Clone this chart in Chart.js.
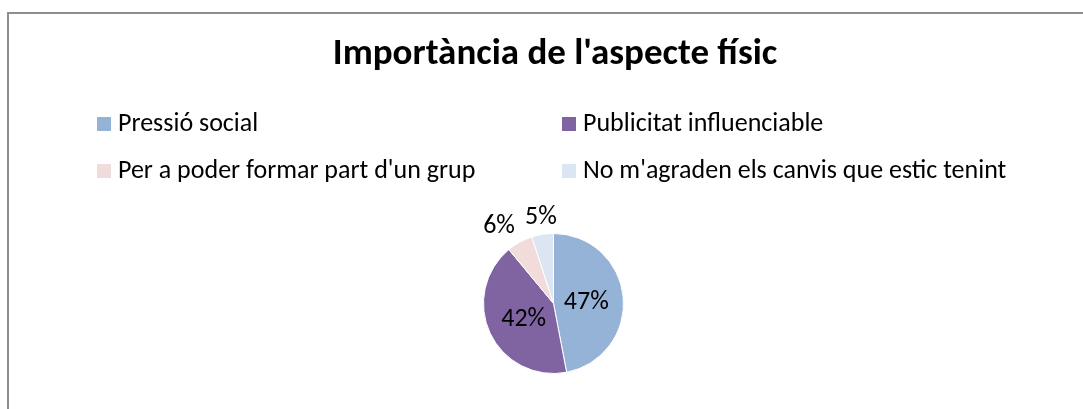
<!DOCTYPE html>
<html>
<head>
<meta charset="utf-8">
<title>Importància de l'aspecte físic</title>
<script src="https://cdn.jsdelivr.net/npm/chart.js@4"></script>
<style>
  html, body { margin: 0; padding: 0; background: #fff; }
  .frame { position: absolute; left: 0; top: 0; width: 1083px; height: 409px; overflow: hidden; }
  .frame::before {
    content: "";
    position: absolute;
    left: 7px; top: 12px; right: -10px; bottom: -10px;
    border-left: 2px solid #8e8e8e;
    border-top: 2px solid #8e8e8e;
  }
  canvas { position: absolute; left: 0; top: 0; }
</style>
</head>
<body>
<div class="frame"><canvas id="pieChart" width="1083" height="409"></canvas></div>
<script>
const chartTitle = "Importància de l'aspecte físic";
const categories = [
  "Pressió social",
  "Publicitat influenciable",
  "Per a poder formar part d'un grup",
  "No m'agraden els canvis que estic tenint",
];
const shares = [47, 42, 6, 5];
const sliceColors = ["#95b3d7", "#8064a2", "#f2dcdb", "#dce6f2"];

const fontFamily = "Carlito, Calibri, 'Open Sans', sans-serif";
const titleFont = "bold 37px " + fontFamily;
const legendFont = "26px " + fontFamily;
const labelFont = "26px " + fontFamily;

// title + two-column legend, drawn on the canvas
const headerPlugin = {
  id: "header",
  afterDraw(chart) {
    const ctx = chart.ctx;
    ctx.save();
    ctx.fillStyle = "#000";
    ctx.textBaseline = "alphabetic";

    ctx.font = titleFont;
    ctx.textAlign = "center";
    ctx.fillText(chartTitle, 555, 64);

    ctx.font = legendFont;
    ctx.textAlign = "left";
    const colX = [97, 562];
    const rowY = [131, 178];
    chart.data.labels.forEach((label, i) => {
      const x = colX[i % 2];
      const y = rowY[Math.floor(i / 2)];
      ctx.fillStyle = chart.data.datasets[0].backgroundColor[i];
      ctx.fillRect(x, y - 14, 14, 14);
      ctx.fillStyle = "#000";
      ctx.fillText(label, x + 21, y);
    });
    ctx.restore();
  },
};

// percentage labels: big slices inside, small ones just outside the rim
const sliceLabels = {
  id: "sliceLabels",
  afterDatasetsDraw(chart) {
    const ctx = chart.ctx;
    const data = chart.data.datasets[0].data;
    const total = data.reduce((a, b) => a + b, 0);
    const meta = chart.getDatasetMeta(0);
    ctx.save();
    ctx.font = labelFont;
    ctx.fillStyle = "#000";
    ctx.textAlign = "left";
    ctx.textBaseline = "alphabetic";
    const h = ctx.measureText("0").actualBoundingBoxAscent;
    meta.data.forEach((arc, i) => {
      const p = arc.getProps(["x", "y", "startAngle", "endAngle", "outerRadius"], true);
      const mid = (p.startAngle + p.endAngle) / 2;
      const dx = Math.cos(mid);
      const dy = Math.sin(mid);
      const share = data[i] / total;
      const text = Math.round(share * 100) + "%";
      const w = ctx.measureText(text).width;
      let left, baseline;
      if (share >= 0.1) {
        const cx = p.x + dx * p.outerRadius * 0.47;
        const cy = p.y + dy * p.outerRadius * 0.47;
        left = cx - w / 2;
        baseline = cy + h / 2;
      } else {
        // anchor point just past the rim; text sits on the far side of it
        const px = p.x + dx * (p.outerRadius + 10);
        const py = p.y + dy * (p.outerRadius + 10);
        if (Math.abs(dx) < 0.25) left = px - w / 2;
        else left = dx < 0 ? px - w : px;
        if (Math.abs(dy) < 0.25) baseline = py + h / 2;
        else baseline = dy < 0 ? py : py + h;
      }
      ctx.fillText(text, left, baseline);
    });
    ctx.restore();
  },
};

new Chart(document.getElementById("pieChart").getContext("2d"), {
  type: "pie",
  data: {
    labels: categories,
    datasets: [
      {
        data: shares,
        backgroundColor: sliceColors,
        borderColor: "#ffffff",
        borderWidth: 1,
      },
    ],
  },
  options: {
    responsive: false,
    animation: false,
    layout: {
      padding: { left: 200, right: 176, top: 233, bottom: 35 },
    },
    plugins: {
      legend: { display: false },
      tooltip: { enabled: false },
    },
  },
  plugins: [sliceLabels, headerPlugin],
});
</script>
</body>
</html>
